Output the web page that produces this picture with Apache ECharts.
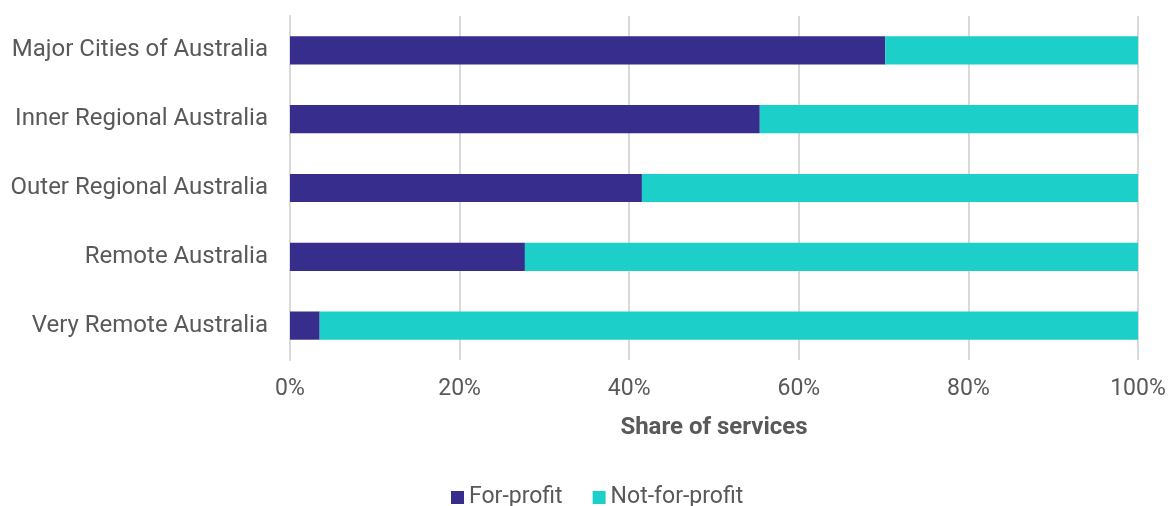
<!DOCTYPE html>
<html><head><meta charset="utf-8">
<script src="https://cdn.jsdelivr.net/npm/echarts@6/dist/echarts.min.js"></script>
<style>html,body{margin:0;padding:0;background:#fff}#c{width:1169px;height:506px}</style>
</head><body><div id="c"></div>
<script>
const categories = ['Major Cities of Australia','Inner Regional Australia','Outer Regional Australia','Remote Australia','Very Remote Australia'];
const forProfit = [70.2, 55.4, 41.5, 27.7, 3.5];
const notForProfit = [29.8, 44.6, 58.5, 72.3, 96.5];
const xTicks = [0, 20, 40, 60, 80, 100];

const chart = echarts.init(document.getElementById('c'));
const font = 'Roboto, "Noto Sans", sans-serif';
chart.setOption({
  animation: false,
  textStyle: {fontFamily: font},
  grid: {left: 290, right: 31, top: 16, bottom: 146},
  legend: {
    left: 446, top: 481, itemWidth: 13, itemHeight: 13, itemGap: 30,
    icon: 'rect',
    textStyle: {fontSize: 23, color: '#595959', fontFamily: font},
    data: ['For-profit','Not-for-profit']
  },
  xAxis: {
    type: 'value', min: 0, max: 100, interval: 20,
    name: 'Share of services', nameLocation: 'middle', nameGap: 56,
    nameTextStyle: {fontSize: 24, fontWeight: 'bold', color: '#595959', fontFamily: font},
    axisLabel: {fontSize: 23, color: '#595959', margin: 18, formatter: v => xTicks.includes(v) ? v + '%' : ''},
    splitLine: {show: true, lineStyle: {color: '#d9d9d9', width: 2}},
    axisLine: {show: false}, axisTick: {show: false}
  },
  yAxis: {
    type: 'category', data: categories, inverse: true,
    axisLabel: {fontSize: 24, color: '#595959', margin: 22},
    axisLine: {show: true, lineStyle: {color: '#d9d9d9', width: 2}},
    axisTick: {show: false}
  },
  series: [
    {name: 'For-profit', type: 'bar', stack: 's', data: forProfit, barCategoryGap: '59%', itemStyle: {color: '#362D8C'}},
    {name: 'Not-for-profit', type: 'bar', stack: 's', data: notForProfit, itemStyle: {color: '#1DCFC9'}}
  ]
});
</script></body></html>
